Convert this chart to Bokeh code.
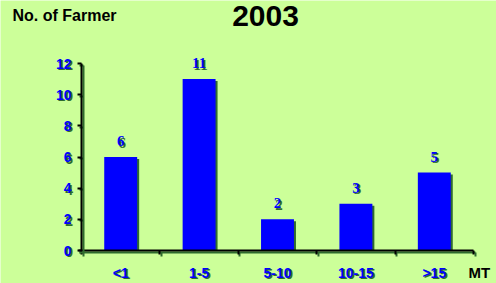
from bokeh.plotting import figure
from bokeh.models import (FixedTicker, Label, ColumnDataSource, LinearAxis, Range1d,
                          NumeralTickFormatter)
from bokeh.transform import dodge
from bokeh.embed import file_html
from bokeh.resources import INLINE

categories = ["<1", "1-5", "5-10", "10-15", ">15"]
farmers = [6, 11, 2, 3, 5]
y_ticks = [0, 2, 4, 6, 8, 10, 12]

BG = "#CCFF99"
BLUE = "#0000FF"
SHADOW = "#2E6B2E"
FONT = "Liberation Sans"

W, H = 496, 283
# pixel geometry of the plotting area (axes origin and extents)
LEFT, RIGHT, TOP, BOTTOM = 81, 473, 63, 250
n = len(categories)
ymax = max(y_ticks)
ppx = (RIGHT - LEFT) / n          # pixels per x unit
ppy = (BOTTOM - TOP) / ymax       # pixels per y unit
dx, dy = 1.5 / ppx, 1.5 / ppy     # text/axis shadow offsets in data units

xs = [i + 0.5 for i in range(n)]
src = ColumnDataSource(dict(x=xs, top=farmers, lab=[str(v) for v in farmers]))

p = figure(width=W, height=H, output_backend="svg", toolbar_location=None,
           x_axis_location=None, y_axis_location=None,
           x_range=Range1d(-LEFT / ppx, n + (W - RIGHT) / ppx),
           y_range=Range1d(-(H - BOTTOM) / ppy, ymax + TOP / ppy),
           min_border=0, min_border_left=0, min_border_right=0,
           min_border_top=0, min_border_bottom=0)
p.background_fill_color = BG
p.border_fill_color = BG
p.outline_line_color = None
p.grid.visible = False

# bar shadows and bars
p.vbar(x=dodge("x", 2 / ppx), top=dodge("top", -2 / ppy), width=0.42, source=src,
       fill_color=SHADOW, line_color=None)
p.vbar(x="x", top="top", width=0.42, source=src, fill_color=BLUE, line_color=None)

# data labels with shadow
p.text(x="x", y="top", text="lab", source=src, x_offset=1.5, y_offset=-9.5,
       text_align="center", text_baseline="bottom", text_color=SHADOW,
       text_font=FONT, text_font_style="bold", text_font_size="15px")
p.text(x="x", y="top", text="lab", source=src, x_offset=0, y_offset=-11,
       text_align="center", text_baseline="bottom", text_color=BLUE,
       text_font=FONT, text_font_style="bold", text_font_size="15px")


def style_x(ax, color, label_color, shift):
    ax.ticker = FixedTicker(ticks=[x + shift for x in xs],
                            minor_ticks=[i + shift for i in range(n + 1)])
    ax.major_label_overrides = {x + shift: c for x, c in zip(xs, categories)}
    ax.major_tick_out = 0
    ax.major_tick_in = 0
    ax.minor_tick_out = 4
    ax.minor_tick_in = 0
    ax.minor_tick_line_color = color
    ax.minor_tick_line_width = 2
    ax.axis_line_color = color
    ax.axis_line_width = 2
    ax.major_label_standoff = 10
    ax.major_label_text_color = label_color
    ax.major_label_text_font = FONT
    ax.major_label_text_font_style = "bold"
    ax.major_label_text_font_size = "14px"


def style_y(ax, color, label_color):
    ax.formatter = NumeralTickFormatter(format="0")
    ax.major_tick_out = 4
    ax.major_tick_in = 0
    ax.major_tick_line_color = color
    ax.major_tick_line_width = 2
    ax.minor_tick_line_color = None
    ax.axis_line_color = color
    ax.axis_line_width = 2
    ax.major_label_standoff = 6
    ax.major_label_text_color = label_color
    ax.major_label_text_font = FONT
    ax.major_label_text_font_style = "bold"
    ax.major_label_text_font_size = "14px"


# shadow axes (drawn first), then the real axes
xs_ax = LinearAxis(fixed_location=-dy, bounds=(-0.04 + dx, n + dx))
style_x(xs_ax, SHADOW, SHADOW, dx)
ys_ax = LinearAxis(fixed_location=dx, bounds=(-dy, ymax - dy),
                   ticker=FixedTicker(ticks=[t - dy for t in y_ticks], minor_ticks=[]))
style_y(ys_ax, SHADOW, SHADOW)
p.add_layout(xs_ax, "below")
p.add_layout(ys_ax, "left")

x_ax = LinearAxis(fixed_location=0, bounds=(-0.04, n))
style_x(x_ax, "black", BLUE, 0)
y_ax = LinearAxis(fixed_location=0, bounds=(0, ymax),
                  ticker=FixedTicker(ticks=y_ticks, minor_ticks=[]))
style_y(y_ax, "black", BLUE)
p.add_layout(x_ax, "below")
p.add_layout(y_ax, "left")

# titles / unit labels (screen units from the canvas' bottom-left corner)
p.add_layout(Label(x=12, y=H - 15, x_units="screen", y_units="screen", text="No. of Farmer",
                   text_font=FONT, text_font_style="bold", text_font_size="16px",
                   text_color="black", text_baseline="alphabetic"))
p.add_layout(Label(x=265, y=H - 15, x_units="screen", y_units="screen", text="2003",
                   text_font=FONT, text_font_style="bold", text_font_size="30px",
                   text_color="black", text_align="center", text_baseline="alphabetic"))
p.add_layout(Label(x=468, y=H - 272, x_units="screen", y_units="screen", text="MT",
                   text_font=FONT, text_font_style="bold", text_font_size="15px",
                   text_color="black", text_baseline="alphabetic"))

open("out.html", "w").write(file_html(p, INLINE))
